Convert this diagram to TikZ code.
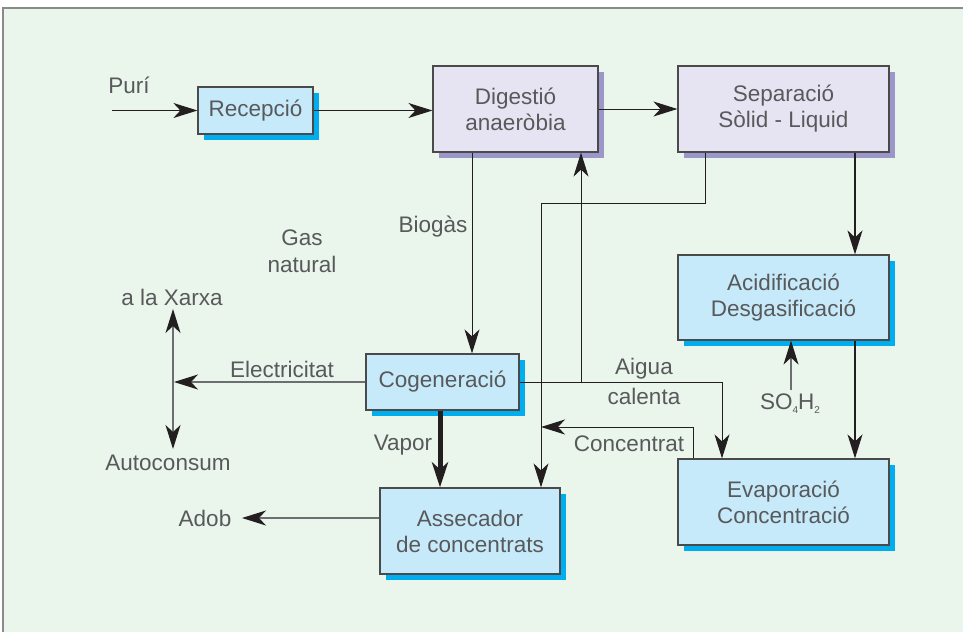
\documentclass[tikz,border=0pt]{standalone}
\usepackage{fontspec}
\setmainfont{Liberation Sans}
\usetikzlibrary{arrows.meta,shadows}
\definecolor{bgc}{HTML}{EAF5EC}
\definecolor{framec}{HTML}{8A8A8A}
\definecolor{bluefill}{HTML}{C7EAFA}
\definecolor{blueshadow}{HTML}{00AEEF}
\definecolor{lilacfill}{HTML}{E6E4F2}
\definecolor{lilacshadow}{HTML}{9C97C9}
\definecolor{boxline}{HTML}{4A4A4A}
\definecolor{txt}{HTML}{58595B}
\definecolor{ink}{HTML}{231F20}
\definecolor{grayline}{HTML}{6D6E71}
\begin{document}
\begin{tikzpicture}[x=1pt,y=-1pt,
  box/.style={draw=boxline,line width=1.2pt,align=center,text=txt,inner sep=0pt,
    font=\fontsize{22.5}{26}\selectfont},
  bluebox/.style={box,fill=bluefill,
    drop shadow={shadow xshift=6pt,shadow yshift=-6pt,fill=blueshadow,opacity=1}},
  lilacbox/.style={box,fill=lilacfill,
    drop shadow={shadow xshift=6pt,shadow yshift=-6pt,fill=lilacshadow,opacity=1}},
  lbl/.style={text=txt,align=center,inner sep=0pt,font=\fontsize{22.5}{26}\selectfont},
  arr/.style={draw=ink,line width=1pt,-{Stealth[length=24pt,width=15pt,inset=7pt]}},
  thickarr/.style={draw=ink,line width=1.7pt,-{Stealth[length=24pt,width=15pt,inset=7pt]}},
  vaporarr/.style={draw=ink,line width=5pt,-{Stealth[length=25pt,width=16pt,inset=7pt]}},
  grayarr/.style={draw=grayline,line width=1.2pt,-{Stealth[length=24pt,width=15pt,inset=7pt,color=ink]}},
  graydbl/.style={draw=grayline,line width=1.2pt,
    {Stealth[length=24pt,width=15pt,inset=7pt,color=ink]}-{Stealth[length=24pt,width=15pt,inset=7pt,color=ink]}}
]
\useasboundingbox (0,0) rectangle (963,632);
\fill[white] (0,0) rectangle (963,632);
\fill[bgc] (3,8) rectangle (963,632);
\draw[framec,line width=1.2pt] (3,632) -- (3,8) -- (963,8);

% boxes
\node[bluebox,minimum width=115pt,minimum height=47pt] (rec) at (255.5,110.5) {Recepció};
\node[lilacbox,minimum width=165pt,minimum height=86pt] (dig) at (515.5,109) {Digestió\\anaeròbia};
\node[lilacbox,minimum width=211pt,minimum height=86pt] (sep) at (783.5,109) {Separació\\Sòlid - Liquid};
\node[bluebox,minimum width=211pt,minimum height=85pt] (acid) at (783.5,297.5) {Acidificació\\Desgasificació};
\node[bluebox,minimum width=211pt,minimum height=86pt] (evap) at (783.5,502) {Evaporació\\Concentració};
\node[bluebox,minimum width=153pt,minimum height=56pt] (cog) at (442.5,382) {Cogeneració};
\node[bluebox,minimum width=180pt,minimum height=86pt] (ass) at (470,531) {Assecador\\de concentrats};

% labels
\node[lbl] (lpuri) at (129,85) {Purí};
\node[lbl,font=\fontsize{22.5}{27}\selectfont] (lgas) at (302,251) {Gas\\natural};
\node[lbl] (lbio) at (433,227) {Biogàs};
\node[lbl] (lxarxa) at (172,297) {a la Xarxa};
\node[lbl] (lauto) at (168,463) {Autoconsum};
\node[lbl] (lelec) at (282,369) {Electricitat};
\node[lbl] (lvapor) at (403,445) {Vapor};
\node[lbl] (ladob) at (205,518) {Adob};
\node[lbl,font=\fontsize{22.5}{30}\selectfont] (laigua) at (644,381) {Aigua\\calenta};
\node[lbl] (lconc) at (629,444) {Concentrat};
\node[lbl] (lso) at (790,404) {SO{\fontsize{10}{10}\selectfont\raisebox{-4pt}{4}}H{\fontsize{10}{10}\selectfont\raisebox{-4pt}{2}}};

% coordinates
\coordinate (puri) at (112,110.5);
\coordinate (bx) at (472,0);
\coordinate (sx) at (705,203);
\coordinate (lx) at (541,203);
\coordinate (ax) at (855,0);
\coordinate (wx) at (722,382);
\coordinate (ux) at (581,382);
\coordinate (cx) at (693,427);
\coordinate (elec) at (174,382);
\coordinate (xt) at (173,309);
\coordinate (xb) at (173,449);
\coordinate (vx) at (440,0);
\coordinate (ay) at (0,518);
\coordinate (adob) at (242,518);
\coordinate (sob) at (791,390);

% connectors
\draw[arr] (puri) -- (rec.west);
\draw[arr] (rec.east) -- (rec.east -| dig.west);
\draw[arr] (dig.east) -- (sep.west);
\draw[arr] (dig.south -| bx) -- (cog.north -| bx);
\draw[arr] (sep.south -| sx) -- (sx) -- (lx) -- (ass.north -| lx);
\draw[thickarr] (sep.south -| ax) -- (acid.north -| ax);
\draw[thickarr] (acid.south -| ax) -- (evap.north -| ax);
\draw[arr] (cog.east) -- (wx) -- (evap.north -| wx);
\draw[arr] (ux) -- (dig.south -| ux);
\draw[arr] (evap.north -| cx) -- (cx) -- (lx |- cx);
\draw[grayarr] (cog.west) -- (elec);
\draw[graydbl] (xt) -- (xb);
\draw[vaporarr] (cog.south -| vx) -- (ass.north -| vx);
\draw[grayarr] (ass.west |- ay) -- (adob);
\draw[grayarr] (sob) -- (acid.south -| sob);
\end{tikzpicture}
\end{document}
